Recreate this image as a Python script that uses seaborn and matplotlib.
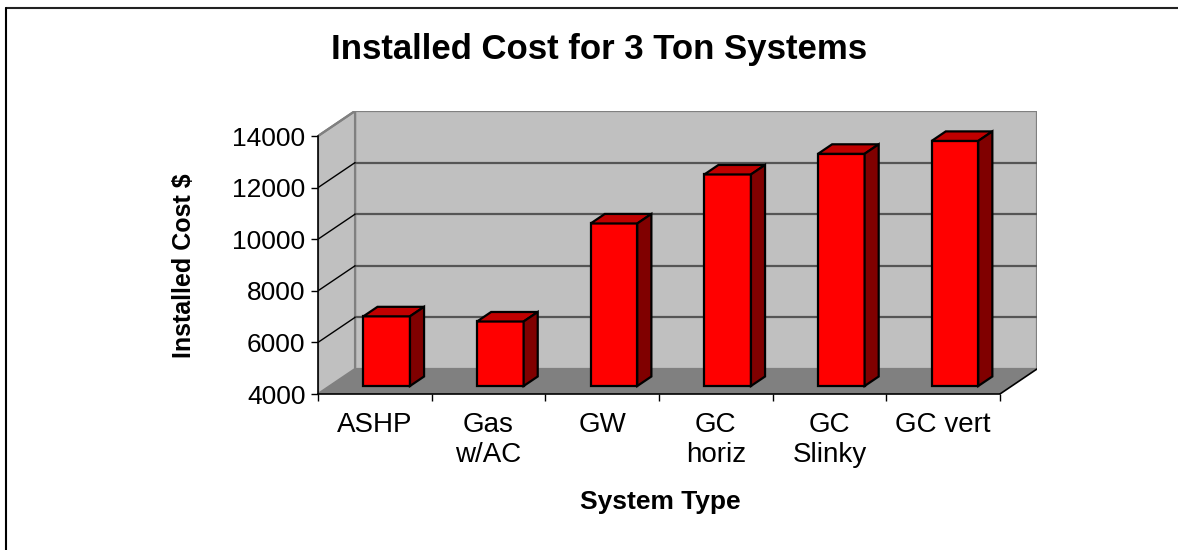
import numpy as np
import pandas as pd
import matplotlib
matplotlib.use("Agg")
import matplotlib.pyplot as plt
import matplotlib.transforms as mtransforms
from matplotlib.patches import Polygon
from matplotlib.lines import Line2D
import seaborn as sns

# ---- data ----
categories = ["ASHP", "Gas\nw/AC", "GW", "GC\nhoriz", "GC\nSlinky", "GC vert"]
costs = [6700, 6500, 10300, 12200, 13000, 13500]
y_ticks = [4000, 6000, 8000, 10000, 12000, 14000]
title = "Installed Cost for 3 Ton Systems"
x_label = "System Type"
y_label = "Installed Cost $"

base = y_ticks[0]
top_val = y_ticks[-1]

sns.set_style("white")
plt.rcParams["font.family"] = ["Liberation Sans", "DejaVu Sans"]
plt.rcParams["text.color"] = "black"
plt.rcParams["axes.labelcolor"] = "black"
plt.rcParams["xtick.color"] = "black"
plt.rcParams["ytick.color"] = "black"

W, H = 1178, 550
fig = plt.figure(figsize=(W / 100, H / 100), dpi=100)
# axes placed in pixel space: front-left (318,394) to back-right (1037,111)
ax = fig.add_axes([318 / W, (H - 394) / H, (1037 - 318) / W, (394 - 111) / H])

# 3D depth parameters (in data units)
n = len(categories)
DX, DY = 0.326, 970          # full depth offset of the back wall
F0 = 0.32                    # bar front depth fraction
FD = 0.38                    # bar depth fraction
sx, sy = F0 * DX, F0 * DY
ddx, ddy = FD * DX, FD * DY

df = pd.DataFrame({"System": categories, "Height": [c - base for c in costs]})
sns.barplot(data=df, x="System", y="Height", bottom=base, color="#FF0000",
            edgecolor="black", linewidth=1.6, width=0.41, ax=ax, zorder=3)

bars = list(ax.containers[0])
shift = mtransforms.Affine2D().translate(sx, sy) + ax.transData
for b in bars:
    b.set_transform(shift)
    b.set_facecolor("#FF0000")
    b.set_zorder(4)
    x0 = b.get_x()
    x1 = x0 + b.get_width()
    y0 = b.get_y()
    y1 = y0 + b.get_height()
    topface = Polygon([(x0, y1), (x1, y1), (x1 + ddx, y1 + ddy), (x0 + ddx, y1 + ddy)],
                      closed=True, facecolor="#C00000", edgecolor="black",
                      linewidth=1.6, transform=shift, zorder=4, joinstyle="miter")
    side = Polygon([(x1, y0), (x1, y1), (x1 + ddx, y1 + ddy), (x1 + ddx, y0 + ddy)],
                   closed=True, facecolor="#800000", edgecolor="black",
                   linewidth=1.6, transform=shift, zorder=4, joinstyle="miter")
    ax.add_patch(topface)
    ax.add_patch(side)

# walls and floor
L, R = -0.5, n - 0.5
wall_c = "#C0C0C0"
edge_c = "#808080"
back = Polygon([(L + DX, base + DY), (R + DX, base + DY), (R + DX, top_val + DY),
                (L + DX, top_val + DY)], closed=True, facecolor=wall_c,
               edgecolor=edge_c, linewidth=1.6, zorder=1)
sidewall = Polygon([(L, base), (L + DX, base + DY), (L + DX, top_val + DY), (L, top_val)],
                   closed=True, facecolor=wall_c, edgecolor=edge_c, linewidth=1.6, zorder=1)
floor = Polygon([(L, base), (R, base), (R + DX, base + DY), (L + DX, base + DY)],
                closed=True, facecolor="#808080", edgecolor="none", zorder=1.5)
ax.add_patch(back)
ax.add_patch(sidewall)
ax.add_patch(floor)
for v in y_ticks[1:-1]:
    ax.plot([L + DX, R + DX], [v + DY, v + DY], color="#555555", lw=1.6, zorder=2)
    ax.plot([L, L + DX], [v, v + DY], color="black", lw=1.0, zorder=2)
ax.plot([R, R + DX], [base, base + DY], color="black", lw=1.2, zorder=2)
ax.plot([L, L + DX], [top_val, top_val + DY], color=edge_c, lw=1.6, zorder=2)

ax.set_xlim(L, R + DX)
ax.set_ylim(base, top_val + DY)

# axes styling
for s in ["top", "right"]:
    ax.spines[s].set_visible(False)
ax.spines["left"].set_bounds(base, top_val)
ax.spines["bottom"].set_bounds(L, R)
for s in ["left", "bottom"]:
    ax.spines[s].set_color("black")
    ax.spines[s].set_linewidth(1.2)
    ax.spines[s].set_zorder(5)

ax.set_yticks(y_ticks)
ax.set_yticklabels([str(v) for v in y_ticks])
ax.tick_params(axis="y", direction="out", length=5, width=1, color="black",
               labelsize=19, pad=4, left=True, labelcolor="black")
ax.set_xticks(range(n))
ax.set_xticklabels(categories)
ax.set_xticks(np.arange(L, R + 0.01, 1.0), minor=True)
ax.tick_params(axis="x", which="major", length=0, labelsize=20, pad=13,
               labelcolor="black")
ax.tick_params(axis="x", which="minor", direction="out", length=5, width=1,
               color="black", bottom=True)

ax.set_xlabel(x_label, fontsize=19, fontweight="bold", color="black")
ax.set_ylabel(y_label, fontsize=18, fontweight="bold", color="black")
ax.xaxis.set_label_coords((660 - 318) / 719, (394 - 490) / 283)
ax.yaxis.set_label_coords((196 - 318) / 719, (394 - 266) / 283)

fig.text(599 / W, 1 - 50 / H, title, ha="center", va="center",
         fontsize=25, fontweight="bold", color="black")

# chart-area border (top and left edges visible)
fig.add_artist(Line2D([6 / W, 1.0], [1 - 8 / H, 1 - 8 / H], transform=fig.transFigure,
                      color="#222222", lw=1.5))
fig.add_artist(Line2D([6 / W, 6 / W], [0, 1 - 8 / H], transform=fig.transFigure,
                      color="black", lw=1.5))

fig.savefig("out.png", dpi=100, facecolor="white")
